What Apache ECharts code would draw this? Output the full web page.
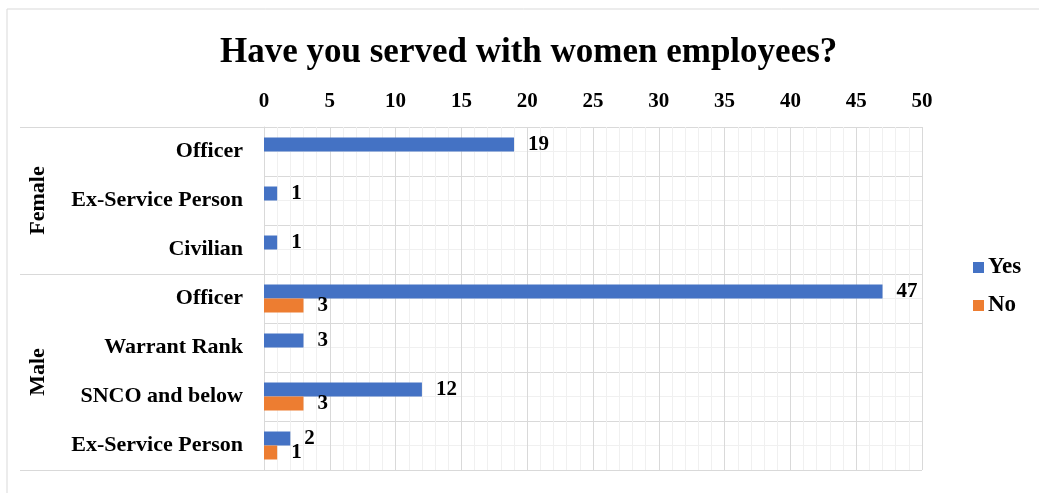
<!DOCTYPE html>
<html>
<head>
<meta charset="utf-8">
<style>
  html, body { margin: 0; padding: 0; background: #fff; }
  #chart { width: 1039px; height: 493px; }
</style>
<script src="https://cdn.jsdelivr.net/npm/echarts@6/dist/echarts.min.js"></script>
</head>
<body>
<div id="chart"></div>
<script>
// Respondent categories, top to bottom
const categories = ['Officer', 'Ex-Service Person', 'Civilian', 'Officer', 'Warrant Rank', 'SNCO and below', 'Ex-Service Person'];
// Gender groups and how many categories each spans
const groups = ['Female', 'Male'];
const groupSizes = [3, 4];
// Answers
const yesValues = [19, 1, 1, 47, 3, 12, 2];
const noValues = [null, null, null, 3, null, 3, 1];
// Value axis ticks
const valueTicks = [0, 5, 10, 15, 20, 25, 30, 35, 40, 45, 50];

const FONT = '"Liberation Serif", "Times New Roman", serif';
const MAJOR = '#d9d9d9';
const MINOR = '#f0f0f0';

// group boundaries and centres on the 0..N band scale
const groupEdges = [0];
groupSizes.forEach(s => groupEdges.push(groupEdges[groupEdges.length - 1] + s));
const groupCentres = groupSizes.map((s, i) => groupEdges[i] + s / 2);

const chart = echarts.init(document.getElementById('chart'), null, { renderer: 'canvas' });

const labelStyle = {
  show: true,
  position: 'right',
  distance: 14,
  fontFamily: FONT,
  fontWeight: 'bold',
  fontSize: 21,
  color: '#000'
};

chart.setOption({
  animation: false,
  backgroundColor: '#fff',
  title: {
    text: 'Have you served with women employees?',
    left: 215,
    top: 30,
    textStyle: { fontFamily: FONT, fontWeight: 'bold', fontSize: 35, color: '#000' }
  },
  legend: {
    orient: 'vertical',
    left: 968,
    top: 251,
    itemWidth: 11,
    itemHeight: 11,
    itemGap: 15,
    icon: 'rect',
    textStyle: { fontFamily: FONT, fontWeight: 'bold', fontSize: 23, color: '#000', padding: [0, 0, 0, -1] },
    data: ['Yes', 'No']
  },
  graphic: [{
    type: 'rect',
    shape: { x: 7, y: 9, width: 1040, height: 490 },
    style: { fill: 'none', stroke: MAJOR, lineWidth: 1 },
    silent: true
  }],
  grid: { left: 264, right: 117, top: 127, bottom: 23 },
  xAxis: {
    type: 'value',
    position: 'top',
    min: valueTicks[0],
    max: valueTicks[valueTicks.length - 1],
    interval: valueTicks[1] - valueTicks[0],
    axisLine: { show: false },
    axisTick: { show: false },
    axisLabel: {
      margin: 15,
      fontFamily: FONT, fontWeight: 'bold', fontSize: 21, color: '#000'
    },
    splitLine: { show: true, lineStyle: { color: MAJOR, width: 1 } },
    minorTick: { show: false, splitNumber: 5 },
    minorSplitLine: { show: true, lineStyle: { color: MINOR, width: 1 } }
  },
  yAxis: [
    {
      type: 'category',
      inverse: true,
      data: categories,
      axisLine: { show: true, lineStyle: { color: MAJOR } },
      axisTick: { show: false },
      axisLabel: {
        margin: 21,
        fontFamily: FONT, fontWeight: 'bold', fontSize: 22, color: '#000'
      },
      splitLine: { show: true, lineStyle: { color: MAJOR, width: 1 } }
    },
    {
      // group level: Female / Male spans with separating ticks
      type: 'value',
      position: 'left',
      inverse: true,
      min: 0,
      max: categories.length,
      interval: 1,
      axisLine: { show: false },
      axisTick: {
        show: true,
        customValues: groupEdges,
        length: 244,
        lineStyle: { color: MAJOR, width: 1 }
      },
      axisLabel: {
        show: true,
        customValues: groupCentres,
        formatter: v => groups[groupCentres.indexOf(v)] || '',
        rotate: 90,
        align: 'center',
        verticalAlign: 'middle',
        margin: 226,
        fontFamily: FONT, fontWeight: 'bold', fontSize: 22, color: '#000'
      },
      splitLine: { show: false },
      minorTick: { show: false, splitNumber: 2 },
      minorSplitLine: { show: true, lineStyle: { color: MINOR, width: 1 } }
    }
  ],
  series: [
    {
      name: 'Yes',
      type: 'bar',
      yAxisIndex: 0,
      data: yesValues,
      barWidth: 14,
      barGap: '0%',
      itemStyle: { color: '#4472C4' },
      label: labelStyle
    },
    {
      name: 'No',
      type: 'bar',
      yAxisIndex: 0,
      data: noValues,
      barWidth: 14,
      barGap: '0%',
      itemStyle: { color: '#ED7D31' },
      label: labelStyle
    }
  ]
});
</script>
</body>
</html>
